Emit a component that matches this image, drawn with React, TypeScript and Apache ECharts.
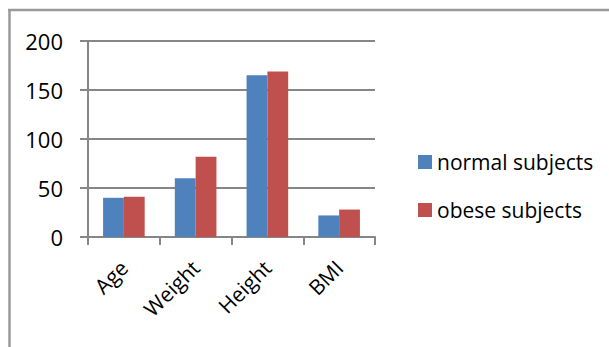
import React, { useEffect, useRef } from "react";
import * as echarts from "echarts";

const categories = ["Age", "Weight", "Height", "BMI"];
const normalSubjects = [40, 60, 165, 22];
const obeseSubjects = [41, 82, 169, 28];
const yTicks = [0, 50, 100, 150, 200];

export default function App() {
  const ref = useRef<HTMLDivElement>(null);
  useEffect(() => {
    document.body.style.margin = "0";
    const chart = echarts.init(ref.current!, undefined, { renderer: "svg" });
    const font = "'Open Sans', sans-serif";
    chart.setOption({
      animation: false,
      backgroundColor: "#ffffff",
      textStyle: { fontFamily: font },
      graphic: [
        { type: "line", shape: { x1: 8, y1: 10, x2: 609, y2: 10 }, style: { stroke: "#9a9a9a", lineWidth: 2.5 } },
        { type: "line", shape: { x1: 9.5, y1: 9, x2: 9.5, y2: 347 }, style: { stroke: "#9a9a9a", lineWidth: 2.5 } },
      ],
      legend: {
        orient: "vertical",
        left: 413,
        top: 146,
        itemWidth: 14,
        itemHeight: 14,
        itemGap: 26,
        icon: "rect",
        textStyle: { fontSize: 21, lineHeight: 22, color: "#000", fontFamily: font, padding: [0, 0, 0, 0] },
        data: ["normal subjects", "obese subjects"],
      },
      grid: { left: 88, right: 234, top: 41, bottom: 110, containLabel: false },
      xAxis: {
        type: "category",
        data: categories,
        axisLine: { lineStyle: { color: "#868686", width: 2 } },
        axisTick: { show: true, length: 8, lineStyle: { color: "#868686", width: 2 } },
        axisLabel: { rotate: 45, fontSize: 21, color: "#000", margin: 27, fontFamily: font },
      },
      yAxis: {
        type: "value",
        min: 0,
        max: 200,
        interval: 50,
        axisLine: { show: true, lineStyle: { color: "#868686", width: 2 } },
        axisTick: { show: true, length: 8, lineStyle: { color: "#868686", width: 2 } },
        splitLine: { lineStyle: { color: "#868686", width: 2 } },
        axisLabel: {
          fontSize: 22,
          color: "#000",
          margin: 25,
          fontFamily: font,
          formatter: (v: number) => (yTicks.includes(v) ? String(v) : ""),
        },
      },
      series: [
        {
          name: "normal subjects",
          type: "bar",
          data: normalSubjects,
          barGap: "0%",
          barCategoryGap: "42%",
          itemStyle: { color: "#4F81BD" },
        },
        {
          name: "obese subjects",
          type: "bar",
          data: obeseSubjects,
          barGap: "0%",
          barCategoryGap: "42%",
          itemStyle: { color: "#C0504D" },
        },
      ],
    });
    return () => chart.dispose();
  }, []);
  return <div ref={ref} style={{ width: 609, height: 347, position: "absolute", left: 0, top: 0 }} />;
}
